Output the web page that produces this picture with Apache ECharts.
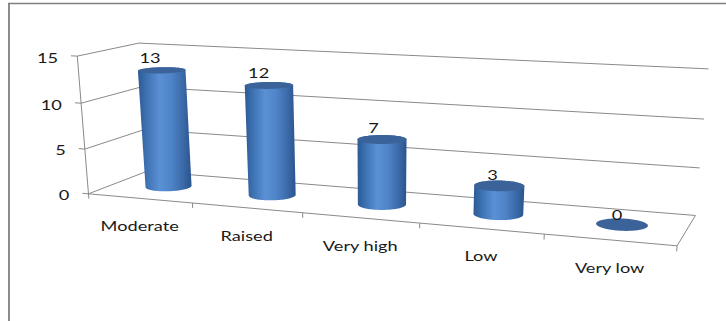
<!DOCTYPE html>
<html><head><meta charset="utf-8">
<script src="https://cdn.jsdelivr.net/npm/echarts@6/dist/echarts.min.js"></script>
<style>html,body{margin:0;padding:0;background:#fff}#c{width:726px;height:321px}</style>
</head><body><div id="c"></div>
<script>
// ---- data ----
const categories = ['Moderate', 'Raised', 'Very high', 'Low', 'Very low'];
const counts = [13, 12, 7, 3, 0];
const yTicks = [0, 5, 10, 15];

// ---- layout (perspective box): [u (category units), v (value units), w (depth 0 front..1 back), screenX, screenY]
const BOX_REF = [
  [0, 0, 0, 88.3, 193.3], [1, 0, 0, 193.3, 202.7], [2, 0, 0, 302.7, 213.3],
  [3, 0, 0, 420, 224], [4, 0, 0, 543.3, 235], [5, 0, 0, 677.3, 246],
  [0, 5, 0, 84.5, 147.7], [0, 10, 0, 81.7, 102.5], [0, 15, 0, 76.7, 56.7],
  [0, 15, 1, 139, 43.5], [5, 15, 1, 708, 69], [5, 10, 1, 705, 119],
  [5, 5, 1, 700, 167.5], [5, 0, 1, 695, 214.3], [0, 0, 1, 146.8, 172.2]
];
const GRID_COLOR = '#8a8a8a';
const TEXT_COLOR = '#1a1a1a';
const FONT = 'Lato';
const FONT_SIZE = 13;
const TEXT_STRETCH = 1.4;
const CAP_COLOR = '#3b6399';
const BODY_GRADIENT = [
  [0, '#2d5a94'], [0.18, '#3f74b6'], [0.4, '#5a90d4'], [0.62, '#4f84c8'], [0.85, '#3a69a7'], [1, '#2a548c']
];

function fitCamera(ref) {
  const n = 11, M = [];
  for (let i = 0; i < n; i++) M.push(new Array(n + 1).fill(0));
  const add = (r, b) => {
    for (let i = 0; i < n; i++) {
      for (let j = 0; j < n; j++) M[i][j] += r[i] * r[j];
      M[i][n] += r[i] * b;
    }
  };
  ref.forEach(([X, Y, Z, x, y]) => {
    add([X, Y, Z, 1, 0, 0, 0, 0, -x * X, -x * Y, -x * Z], x);
    add([0, 0, 0, 0, X, Y, Z, 1, -y * X, -y * Y, -y * Z], y);
  });
  for (let c = 0; c < n; c++) {
    let piv = c;
    for (let r = c + 1; r < n; r++) if (Math.abs(M[r][c]) > Math.abs(M[piv][c])) piv = r;
    const t = M[c]; M[c] = M[piv]; M[piv] = t;
    for (let r = 0; r < n; r++) {
      if (r === c) continue;
      const f = M[r][c] / M[c][c];
      for (let j = c; j <= n; j++) M[r][j] -= f * M[c][j];
    }
  }
  return M.map((row, i) => row[n] / row[i]);
}
const cam = fitCamera(BOX_REF);
function P(u, v, w) {
  const d = cam[8] * u + cam[9] * v + cam[10] * w + 1;
  return [(cam[0] * u + cam[1] * v + cam[2] * w + cam[3]) / d,
          (cam[4] * u + cam[5] * v + cam[6] * w + cam[7]) / d];
}
const yMax = yTicks[yTicks.length - 1];
const nCat = categories.length;

// convert a data point through the (hidden) cartesian scales into box units
function toBox(params, api, cat, val) {
  const cs = params.coordSys;
  const c = api.coord([cat, val]);
  return [(c[0] - cs.x) / cs.width * nCat, (cs.y + cs.height - c[1]) / cs.height * yMax];
}
function seg(a, b, color, lw) {
  return { type: 'line', shape: { x1: a[0], y1: a[1], x2: b[0], y2: b[1] },
           style: { stroke: color || GRID_COLOR, lineWidth: lw || 1 } };
}
function txt(s, x, y, align) {
  return { type: 'text', x: x, y: y, scaleX: TEXT_STRETCH,
           style: { text: s, fill: TEXT_COLOR, fontFamily: FONT, fontSize: FONT_SIZE,
                    align: align, verticalAlign: 'middle' } };
}
function hull(pts) {
  pts = pts.slice().sort((a, b) => a[0] - b[0] || a[1] - b[1]);
  const cr = (o, a, b) => (a[0] - o[0]) * (b[1] - o[1]) - (a[1] - o[1]) * (b[0] - o[0]);
  const lo = [], up = [];
  for (const p of pts) { while (lo.length >= 2 && cr(lo[lo.length - 2], lo[lo.length - 1], p) <= 0) lo.pop(); lo.push(p); }
  for (let i = pts.length - 1; i >= 0; i--) { const p = pts[i]; while (up.length >= 2 && cr(up[up.length - 2], up[up.length - 1], p) <= 0) up.pop(); up.push(p); }
  lo.pop(); up.pop();
  return lo.concat(up);
}

function renderFrame(params, api) {
  const v = toBox(params, api, api.value(0), api.value(1))[1];
  const ch = [];
  ch.push(seg(P(0, v, 0), P(0, v, 1)));
  ch.push(seg(P(0, v, 1), P(nCat, v, 1)));
  const te = P(-0.06, v, 0);
  ch.push(seg(P(0, v, 0), te));
  ch.push(txt(String(api.value(1)), te[0] - 13, te[1] + 1.5, 'right'));
  if (params.dataIndex === 0) {
    ch.push(seg(P(0, v, 0), P(0, yMax, 0)));
    ch.push(seg(P(0, v, 0), P(nCat, v, 0)));
    ch.push(seg(P(nCat, v, 0), P(nCat, v, 1)));
    for (let i = 0; i <= nCat; i++) ch.push(seg(P(i, v, 0), P(i, v - 0.55, 0)));
  }
  return { type: 'group', children: ch };
}

function renderBar(params, api) {
  const [u, v] = toBox(params, api, api.value(0), api.value(1));
  const R = 0.2, W = 0.5, N = 90;
  const bot = [], top = [];
  for (let k = 0; k < N; k++) {
    const th = 2 * Math.PI * k / N;
    const uu = u + R * Math.cos(th), ww = W + R * Math.sin(th);
    bot.push(P(uu, 0, ww));
    top.push(P(uu, v, ww));
  }
  const ch = [];
  if (v > 0) {
    ch.push({ type: 'polygon', shape: { points: hull(bot.concat(top)) },
      style: { fill: { type: 'linear', x: 0, y: 0, x2: 1, y2: 0,
        colorStops: BODY_GRADIENT.map(([o, c]) => ({ offset: o, color: c })) } } });
  }
  ch.push({ type: 'polygon', shape: { points: top }, style: { fill: CAP_COLOR } });
  const lp = P(u, v, 0.3);
  ch.push(txt(String(api.value(1)), lp[0], lp[1] - 16, 'center'));
  const cp = P(u, 0, 0);
  ch.push(txt(categories[api.value(0)], cp[0], cp[1] + 27.5, 'center'));
  return { type: 'group', children: ch };
}

const chart = echarts.init(document.getElementById('c'), null, { renderer: 'svg' });
chart.setOption({
  animation: false,
  backgroundColor: '#ffffff',
  grid: { left: 0, top: 0, width: 500, height: 150, show: false },
  xAxis: { type: 'category', data: categories, show: false },
  yAxis: { type: 'value', min: 0, max: yMax, interval: yTicks[1] - yTicks[0], show: false },
  graphic: [
    { type: 'line', shape: { x1: 9, y1: 3.5, x2: 9, y2: 321 }, style: { stroke: '#8c8c8c', lineWidth: 2 } },
    { type: 'line', shape: { x1: 8, y1: 3.5, x2: 726, y2: 3.5 }, style: { stroke: '#7f7f7f', lineWidth: 1.5 } }
  ],
  series: [
    { type: 'custom', name: 'frame', clip: false, silent: true, z: 1,
      data: yTicks.map(t => [0, t]), renderItem: renderFrame },
    { type: 'custom', name: 'Count', clip: false, silent: true, z: 2,
      data: counts.map((c, i) => [i, c]), renderItem: renderBar }
  ]
});
</script></body></html>
